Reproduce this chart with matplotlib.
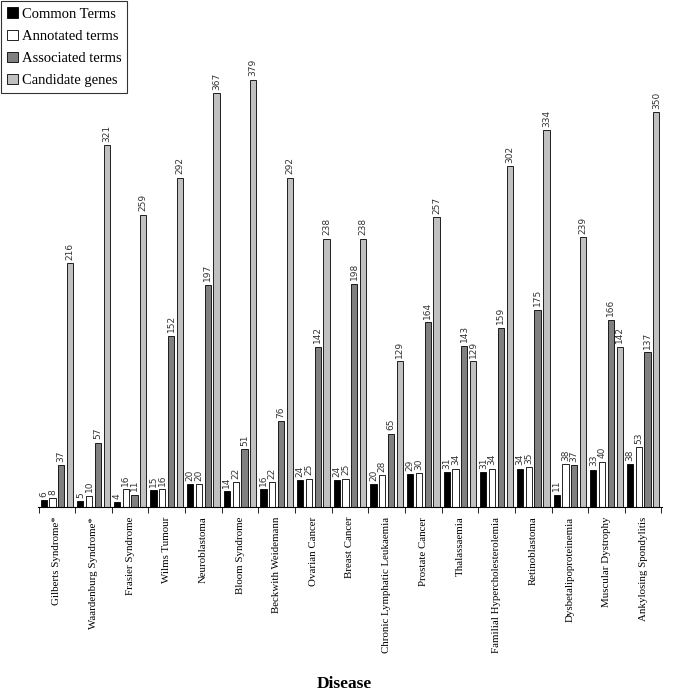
import matplotlib

matplotlib.use("Agg")
import matplotlib.pyplot as plt
import numpy as np

diseases = [
    "Gilberts Syndrome*", "Waardenburg Syndrome*", "Frasier Syndrome",
    "Wilms Tumour", "Neuroblastoma", "Bloom Syndrome", "Beckwith Weidemann",
    "Ovarian Cancer", "Breast Cancer", "Chronic Lymphatic Leukaemia",
    "Prostate Cancer", "Thalassaemia", "Familial Hypercholesterolemia",
    "Retinoblastoma", "Dysbetalipoproteinemia", "Muscular Dystrophy",
    "Ankylosing Spondylitis",
]
common_terms = [6, 5, 4, 15, 20, 14, 16, 24, 24, 20, 29, 31, 31, 34, 11, 33, 38]
annotated_terms = [8, 10, 16, 16, 20, 22, 22, 25, 25, 28, 30, 34, 34, 35, 38, 40, 53]
associated_terms = [37, 57, 11, 152, 197, 51, 76, 142, 198, 65, 164, 143, 159, 175, 37, 166, 137]
candidate_genes = [216, 321, 259, 292, 367, 379, 292, 238, 238, 129, 257, 129, 302, 334, 239, 142, 350]

series = [
    ("Common Terms", common_terms, "#000000"),
    ("Annotated terms", annotated_terms, "#ffffff"),
    ("Associated terms", associated_terms, "#808080"),
    ("Candidate genes", candidate_genes, "#c0c0c0"),
]

serif = ["Liberation Serif", "DejaVu Serif"]

fig = plt.figure(figsize=(6.75, 6.94), dpi=100)
ax = fig.add_axes([0.056, 0.2695, 0.925, 0.65])

x = np.arange(len(diseases))
width = 0.17
offsets = [-0.36, -0.12, 0.12, 0.36]
handles = []
for (name, values, color), off in zip(series, offsets):
    bars = ax.bar(x + off, values, width, color=color, edgecolor="black",
                  linewidth=0.6, label=name)
    handles.append(bars)
    for xi, v in zip(x + off, values):
        ax.text(xi, v + 3, str(v), rotation=90, ha="center", va="bottom",
                fontsize=6.5, color="#333333", family="DejaVu Sans")

ax.set_xlim(-0.52, len(diseases) - 0.48)
ax.set_ylim(0, 400)
for side in ("top", "right", "left"):
    ax.spines[side].set_visible(False)
ax.spines["bottom"].set_linewidth(0.8)
ax.set_yticks([])
ax.set_xticks(x)
ax.set_xticklabels(diseases, rotation=90, fontsize=7.8, family=serif)
ax.tick_params(axis="x", which="major", length=0, pad=7)
ax.set_xticks(np.arange(len(diseases) + 1) - 0.5, minor=True)
ax.tick_params(axis="x", which="minor", length=4, width=0.6)

fig.text(0.51, 0.003, "Disease", ha="center", va="bottom", fontsize=12.5,
         fontweight="bold", family=serif)

leg = fig.legend(handles=handles, loc="upper left", bbox_to_anchor=(0.0, 1.0),
                 prop={"family": serif, "size": 10.5}, frameon=True,
                 fancybox=False, edgecolor="black", handlelength=0.7,
                 handleheight=0.7, handletextpad=0.3, borderpad=0.4,
                 labelspacing=0.62, borderaxespad=0.1)
leg.get_frame().set_linewidth(0.8)

fig.savefig("out.png", dpi=100)
